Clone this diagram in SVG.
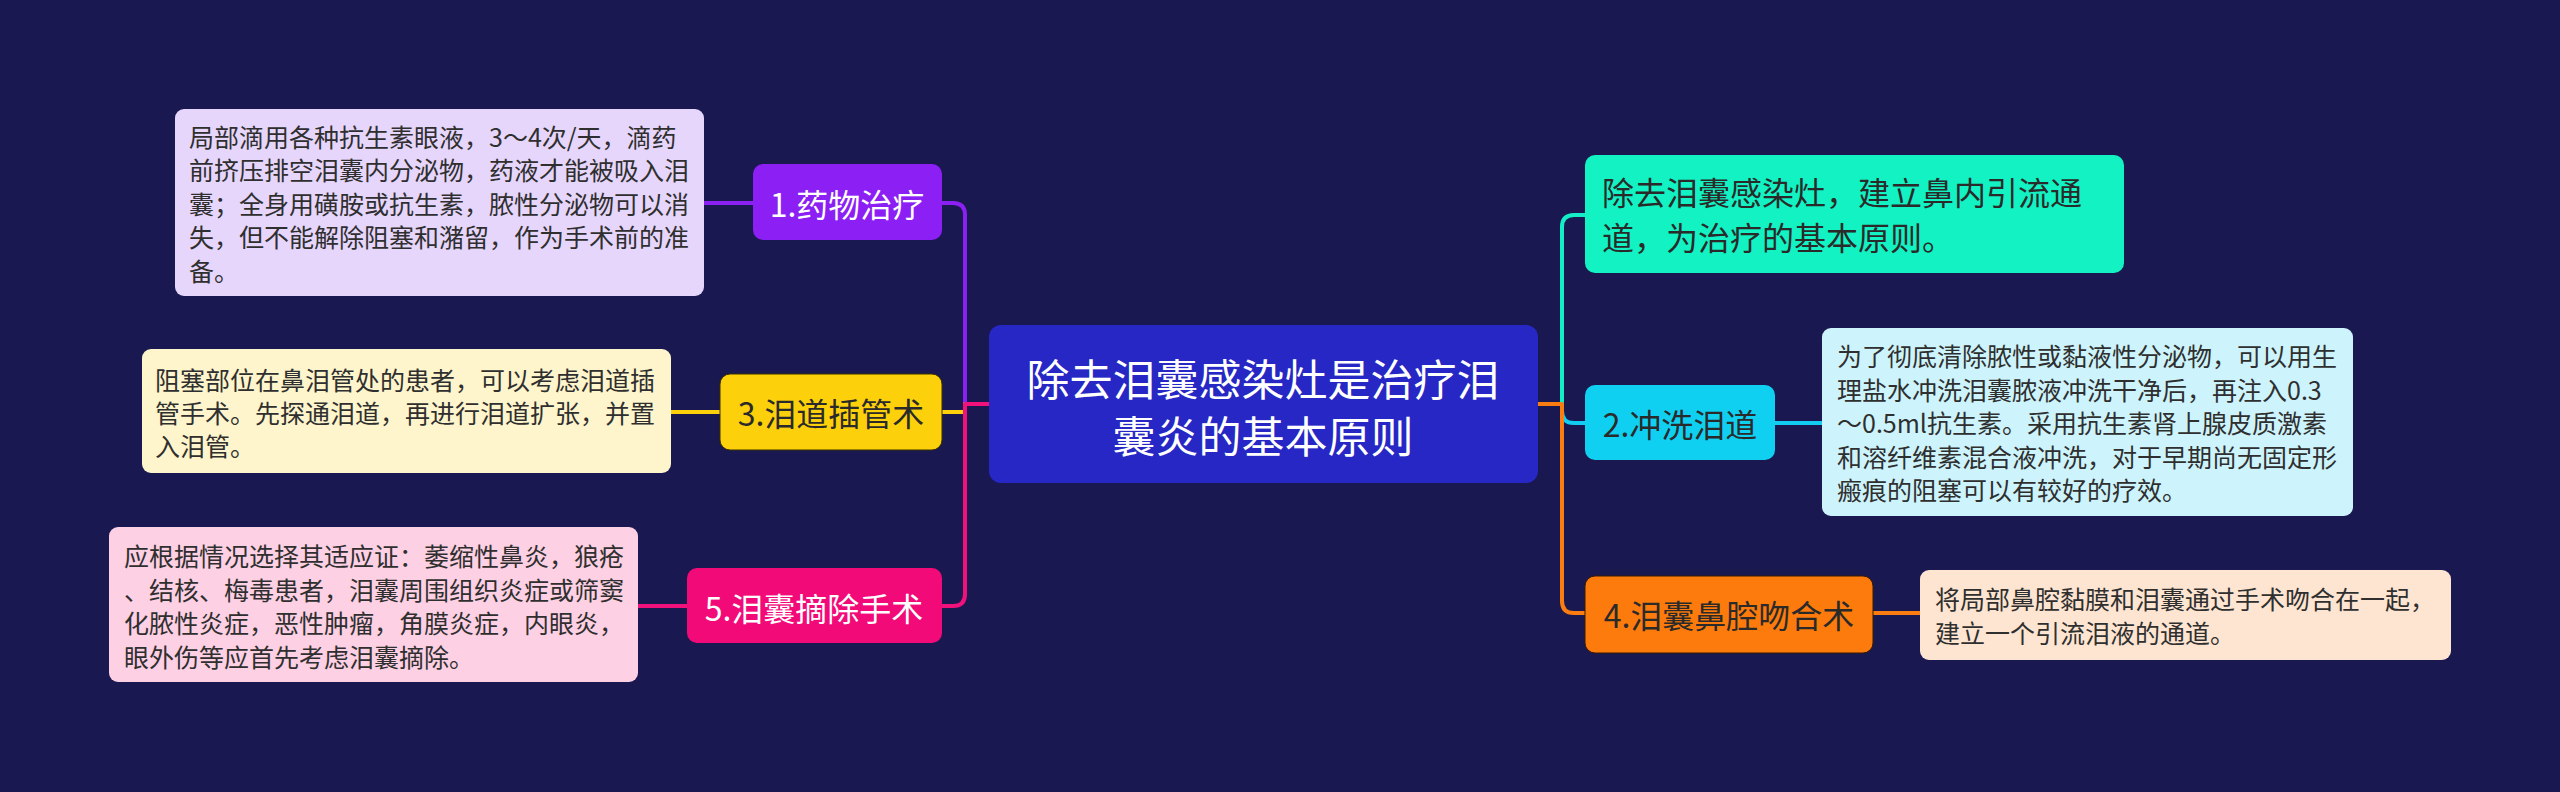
<svg xmlns="http://www.w3.org/2000/svg" width="2560" height="792" viewBox="0 0 2560 792">
<style>
text{font-family:"Noto Sans CJK SC","Noto Sans",sans-serif;dominant-baseline:central}
.d{font-size:25px;fill:#2f2f2f}
.l{font-size:32px;text-anchor:middle}
.w{fill:#ffffff}
.k{fill:#2a2a2a}
.c{fill:none;stroke-width:4;stroke-linecap:round;stroke-linejoin:round}
</style>
<rect x="0" y="0" width="2560" height="792" fill="#1a1850"/>
<g id="connectors">
<path class="c" stroke="#8b20f2" d="M965,404 V215 Q965,203 953,203 H942"/>
<path class="c" stroke="#fcd00a" d="M965,404 V412 H942"/>
<path class="c" stroke="#f0127a" d="M989,404 H965 V594 Q965,606 953,606 H942"/>
<path class="c" stroke="#8b20f2" d="M704,203 H753"/>
<path class="c" stroke="#fcd00a" d="M671,412 H720"/>
<path class="c" stroke="#f0127a" d="M638,606 H687"/>
<path class="c" stroke="#14eec6" d="M1562,404 V227 Q1562,215 1574,215 H1585"/>
<path class="c" stroke="#12cdf0" d="M1562,404 V411 Q1562,423 1574,423 H1585"/>
<path class="c" stroke="#fb7c10" d="M1538,404 H1562 V601 Q1562,613 1574,613 H1585"/>
<path class="c" stroke="#12cdf0" d="M1775,423 H1822"/>
<path class="c" stroke="#fb7c10" d="M1873,613 H1920"/>
</g>
<g id="center">
<rect x="989" y="325" width="549" height="158" rx="12" fill="#2627c4"/>
<text x="1263" y="377" font-size="43" text-anchor="middle" class="w">除去泪囊感染灶是治疗泪</text>
<text x="1263" y="434" font-size="43" text-anchor="middle" class="w">囊炎的基本原则</text>
</g>
<g id="n1">
<rect x="753" y="164" width="189" height="76" rx="10" fill="#8b1ff4"/>
<text x="847" y="203" class="l w">1.药物治疗</text>
</g>
<g id="n1d">
<rect x="175" y="109" width="529" height="187" rx="9" fill="#e7d6fc"/>
<text class="d" x="189"><tspan x="189" y="136">局部滴用各种抗生素眼液，3～4次/天，滴药</tspan><tspan x="189" y="169">前挤压排空泪囊内分泌物，药液才能被吸入泪</tspan><tspan x="189" y="203">囊；全身用磺胺或抗生素，脓性分泌物可以消</tspan><tspan x="189" y="236">失，但不能解除阻塞和潴留，作为手术前的准</tspan><tspan x="189" y="270">备。</tspan></text>
</g>
<g id="n3">
<rect x="720" y="374" width="222" height="76" rx="10" fill="#fcd00a" stroke="#3a3000" stroke-width="1"/>
<text x="831" y="412" class="l k">3.泪道插管术</text>
</g>
<g id="n3d">
<rect x="142" y="349" width="529" height="124" rx="9" fill="#fef5cc"/>
<text class="d" x="155"><tspan x="155" y="379">阻塞部位在鼻泪管处的患者，可以考虑泪道插</tspan><tspan x="155" y="412">管手术。先探通泪道，再进行泪道扩张，并置</tspan><tspan x="155" y="445">入泪管。</tspan></text>
</g>
<g id="n5">
<rect x="687" y="568" width="255" height="75" rx="10" fill="#f20a78"/>
<text x="814" y="607" class="l w">5.泪囊摘除手术</text>
</g>
<g id="n5d">
<rect x="109" y="527" width="529" height="155" rx="9" fill="#fdd0e4"/>
<text class="d" x="124"><tspan x="124" y="555">应根据情况选择其适应证：萎缩性鼻炎，狼疮</tspan><tspan x="124" y="589">、结核、梅毒患者，泪囊周围组织炎症或筛窦</tspan><tspan x="124" y="622">化脓性炎症，恶性肿瘤，角膜炎症，内眼炎，</tspan><tspan x="124" y="656">眼外伤等应首先考虑泪囊摘除。</tspan></text>
</g>
<g id="nt">
<rect x="1585" y="155" width="539" height="118" rx="10" fill="#12f2c2"/>
<text style="font-size:32px" class="k"><tspan x="1602" y="191">除去泪囊感染灶，建立鼻内引流通</tspan><tspan x="1602" y="236">道，为治疗的基本原则。</tspan></text>
</g>
<g id="n2">
<rect x="1585" y="385" width="190" height="75" rx="10" fill="#10d0f2"/>
<text x="1680" y="423" class="l k">2.冲洗泪道</text>
</g>
<g id="n2d">
<rect x="1822" y="328" width="531" height="188" rx="9" fill="#cdf4fc"/>
<text class="d" x="1837"><tspan x="1837" y="355">为了彻底清除脓性或黏液性分泌物，可以用生</tspan><tspan x="1837" y="389">理盐水冲洗泪囊脓液冲洗干净后，再注入0.3</tspan><tspan x="1837" y="422">～0.5ml抗生素。采用抗生素肾上腺皮质激素</tspan><tspan x="1837" y="456">和溶纤维素混合液冲洗，对于早期尚无固定形</tspan><tspan x="1837" y="489">瘢痕的阻塞可以有较好的疗效。</tspan></text>
</g>
<g id="n4">
<rect x="1585" y="576" width="288" height="77" rx="10" fill="#fc7b0c" stroke="#3a1a00" stroke-width="1"/>
<text x="1729" y="614" class="l k">4.泪囊鼻腔吻合术</text>
</g>
<g id="n4d">
<rect x="1920" y="570" width="531" height="90" rx="9" fill="#fee5d1"/>
<text class="d" x="1935"><tspan x="1935" y="598">将局部鼻腔黏膜和泪囊通过手术吻合在一起，</tspan><tspan x="1935" y="632">建立一个引流泪液的通道。</tspan></text>
</g>
</svg>
